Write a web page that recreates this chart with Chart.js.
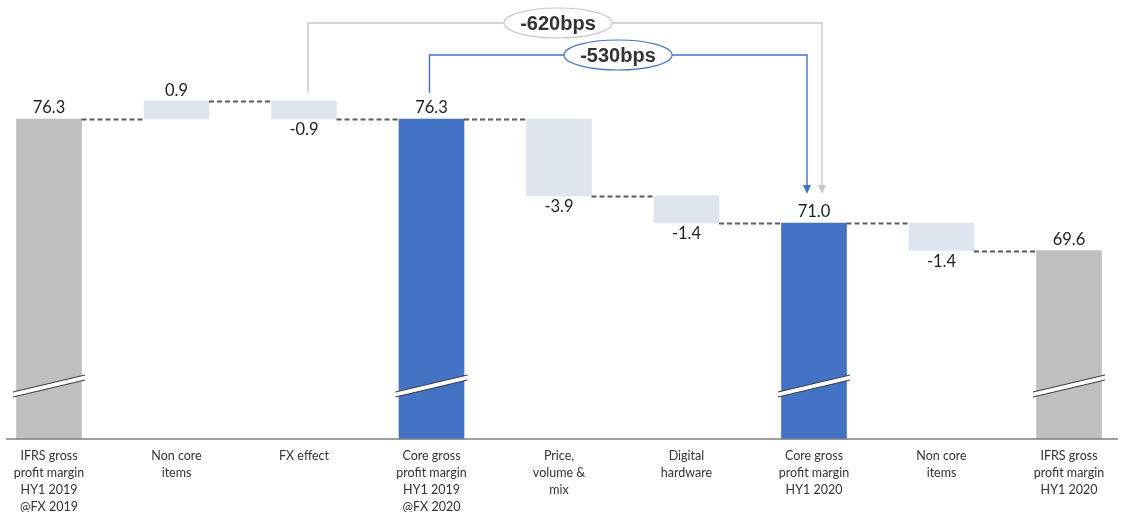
<!DOCTYPE html>
<html lang="en">
<head>
    <meta charset="UTF-8">
    <script src="https://cdn.jsdelivr.net/npm/chart.js"></script>
    <title>Gross profit margin bridge</title>
    <style>
        body { margin: 0; background: #fff; }
        #wrap { width: 1129px; height: 512px; }
    </style>
</head>
<body>
    <div id="wrap">
        <canvas id="myChart"></canvas>
    </div>
<script>
    // categories (multi-line tick labels)
    var labels = [
        ['IFRS gross', 'profit margin', 'HY1 2019', '@FX 2019'],
        ['Non core', 'items'],
        ['FX effect'],
        ['Core gross', 'profit margin', 'HY1 2019', '@FX 2020'],
        ['Price,', 'volume &', 'mix'],
        ['Digital', 'hardware'],
        ['Core gross', 'profit margin', 'HY1 2020'],
        ['Non core', 'items'],
        ['IFRS gross', 'profit margin', 'HY1 2020']
    ];
    // value shown for each bar (totals are levels, others are changes)
    var values = [76.3, 0.9, -0.9, 76.3, -3.9, -1.4, 71.0, -1.4, 69.6];
    // 'ifrs' = grey total, 'core' = blue total, 'step' = change
    var kinds = ['ifrs', 'step', 'step', 'core', 'step', 'step', 'core', 'step', 'ifrs'];
    var axisMin = 60;
    var axisMax = 82.36;

    var colors = { ifrs: '#bfbfbf', core: '#4472c4', step: '#dfe5ef' };

    // build floating ranges
    var ranges = [];
    var levels = [];
    var level = 0;
    for (var i = 0; i < values.length; i++) {
        if (kinds[i] == 'step') {
            ranges.push([level, level + values[i]]);
            level = level + values[i];
        } else {
            level = values[i];
            ranges.push([axisMin, level]);
        }
        levels.push(level);
    }

    var extras = {
        id: 'extras',
        afterDatasetsDraw(chart) {
            var ctx = chart.ctx;
            var y = chart.scales.y;
            var meta = chart.getDatasetMeta(0);
            var base = y.getPixelForValue(axisMin);
            ctx.save();

            // dashed connectors
            ctx.strokeStyle = '#595959';
            ctx.lineWidth = 1.8;
            ctx.setLineDash([5, 3]);
            for (var i = 0; i < meta.data.length - 1; i++) {
                var a = meta.data[i], b = meta.data[i + 1];
                var ly = Math.round(y.getPixelForValue(levels[i])) + 0.5;
                ctx.beginPath();
                ctx.moveTo(a.x + a.width / 2, ly);
                ctx.lineTo(b.x - b.width / 2, ly);
                ctx.stroke();
            }
            ctx.setLineDash([]);

            // break marks on the total bars
            meta.data.forEach(function (bar, i) {
                if (kinds[i] == 'step') return;
                var x1 = bar.x - 36, x2 = bar.x + 36;
                ctx.beginPath();
                ctx.moveTo(x1, base - 47);
                ctx.lineTo(x2, base - 64);
                ctx.lineTo(x2, base - 59);
                ctx.lineTo(x1, base - 42);
                ctx.closePath();
                ctx.fillStyle = '#fff';
                ctx.fill();
                ctx.strokeStyle = '#404040';
                ctx.lineWidth = 1.2;
                ctx.beginPath();
                ctx.moveTo(x1, base - 47);
                ctx.lineTo(x2, base - 64);
                ctx.moveTo(x1, base - 42);
                ctx.lineTo(x2, base - 59);
                ctx.stroke();
            });

            // value labels
            ctx.font = '16.5px Lato';
            ctx.fillStyle = '#1f1f1f';
            ctx.textAlign = 'center';
            ctx.textBaseline = 'middle';
            meta.data.forEach(function (bar, i) {
                var top = Math.min(bar.y, bar.base);
                var bottom = Math.max(bar.y, bar.base);
                var txt = values[i].toFixed(1);
                if (values[i] < 0 && kinds[i] == 'step') {
                    ctx.fillText(txt, bar.x, bottom + 11);
                } else {
                    ctx.fillText(txt, bar.x, top - 11);
                }
            });

            // baseline
            ctx.strokeStyle = '#7f7f7f';
            ctx.lineWidth = 1.3;
            ctx.beginPath();
            ctx.moveTo(6, base);
            ctx.lineTo(1118, base);
            ctx.stroke();

            // bps brackets
            var arrowY = y.getPixelForValue(levels[6]) - 29;
            drawBracket(ctx, meta.data[2].x + 4, 93, 23, meta.data[6].x + 8, arrowY, '#c8c8c8', 558, '-620bps');
            drawBracket(ctx, meta.data[3].x - 2, 93, 55, meta.data[6].x - 7, arrowY, '#4472c4', 618, '-530bps');
            ctx.restore();
        }
    };

    function drawBracket(ctx, xs, ys, yTop, xe, ye, color, cx, text) {
        ctx.strokeStyle = color;
        ctx.lineWidth = 1.4;
        ctx.beginPath();
        ctx.moveTo(xs, ys);
        ctx.lineTo(xs, yTop);
        ctx.lineTo(xe, yTop);
        ctx.lineTo(xe, ye - 7);
        ctx.stroke();
        ctx.fillStyle = color;
        ctx.beginPath();
        ctx.moveTo(xe - 4, ye - 9);
        ctx.lineTo(xe + 4, ye - 9);
        ctx.lineTo(xe, ye);
        ctx.closePath();
        ctx.fill();
        ctx.beginPath();
        ctx.ellipse(cx, yTop, 54, 15, 0, 0, Math.PI * 2);
        ctx.fillStyle = '#fff';
        ctx.fill();
        ctx.lineWidth = 1.2;
        ctx.stroke();
        ctx.fillStyle = '#333';
        ctx.font = 'bold 20px "Liberation Sans"';
        ctx.textAlign = 'center';
        ctx.textBaseline = 'middle';
        ctx.fillText(text, cx, yTop + 1);
    }

    var data = {
        labels: labels,
        datasets: [{
            data: ranges,
            backgroundColor: kinds.map(k => colors[k]),
            borderWidth: 0,
            borderSkipped: false,
            barThickness: 65,
            clip: false
        }]
    };

    var config = {
        type: 'bar',
        data: data,
        options: {
            responsive: true,
            maintainAspectRatio: false,
            animation: false,
            layout: { padding: { left: 49, right: 60, top: 0, bottom: 0 } },
            plugins: {
                legend: { display: false },
                tooltip: { enabled: false }
            },
            scales: {
                x: {
                    offset: false,
                    grid: { display: false, drawTicks: false },
                    border: { display: false },
                    ticks: {
                        autoSkip: false,
                        maxRotation: 0,
                        padding: 8,
                        color: '#333',
                        font: { family: 'Lato', size: 12.5, lineHeight: 1.38 }
                    },
                    afterFit: function (scale) { scale.height = 73; }
                },
                y: {
                    display: false,
                    min: axisMin,
                    max: axisMax
                }
            }
        },
        plugins: [extras]
    };
    var myChart = new Chart(document.getElementById('myChart'), config);
</script>
</body>
</html>
